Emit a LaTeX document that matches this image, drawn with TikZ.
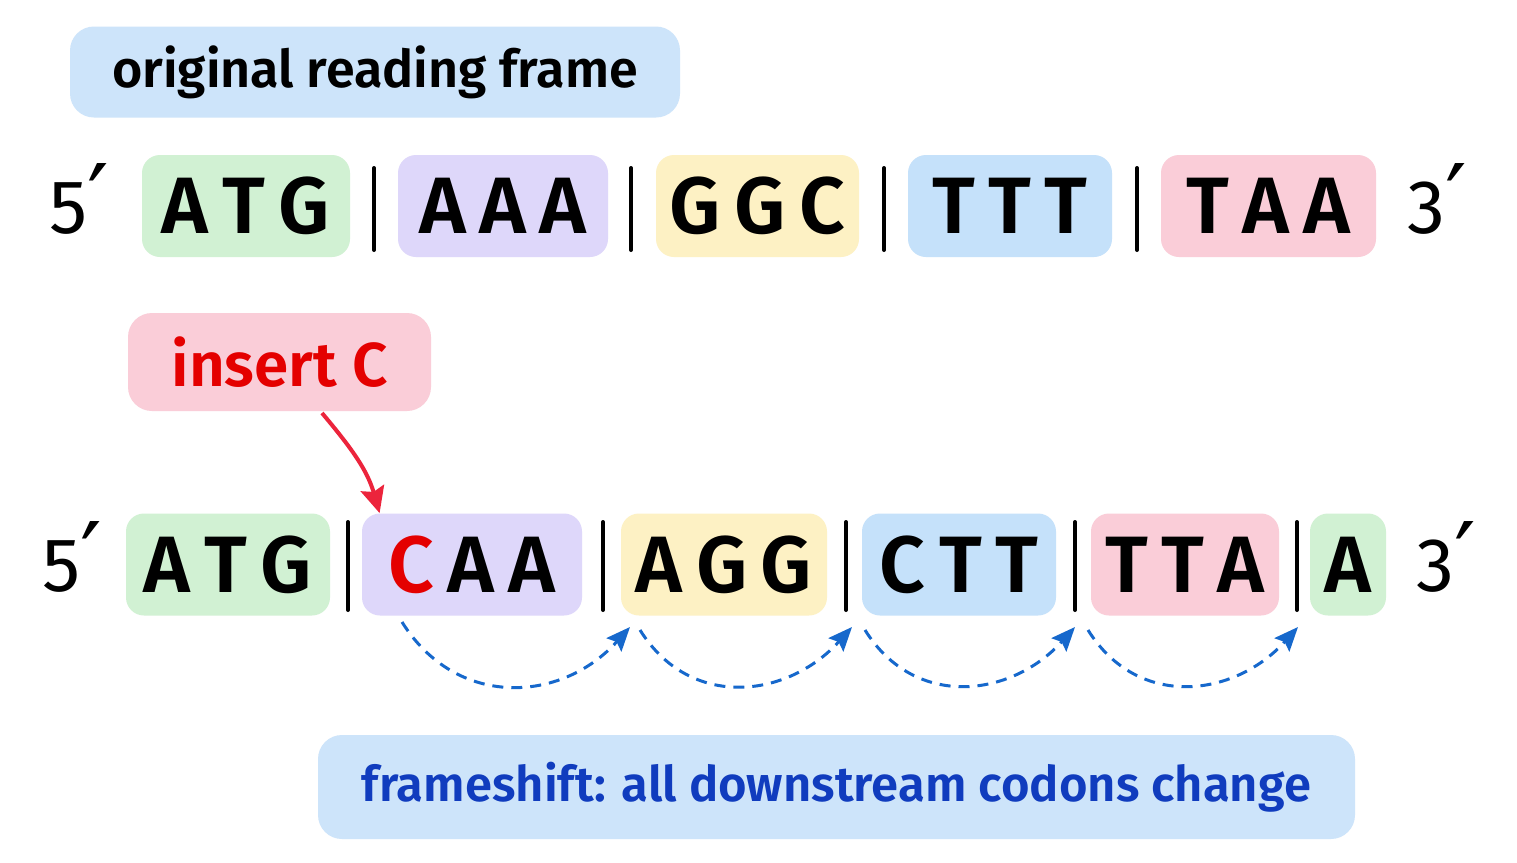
\documentclass[tikz,border=0pt]{standalone}
\usepackage[RGB]{xcolor}
\usepackage{fontspec}
\setsansfont{Fira Sans}
\newfontfamily\semifont{Fira Sans SemiBold}
\newfontfamily\primefont{DejaVu Sans}
\usetikzlibrary{arrows.meta}
\definecolor{G}{RGB}{209,241,211}
\definecolor{P}{RGB}{222,215,250}
\definecolor{Y}{RGB}{253,241,196}
\definecolor{B}{RGB}{197,225,250}
\definecolor{R}{RGB}{250,205,216}
\definecolor{labelblue}{RGB}{205,228,250}
\definecolor{textblue}{RGB}{16,60,190}
\definecolor{insertred}{RGB}{228,0,0}
\definecolor{arrowred}{RGB}{236,36,60}
\definecolor{shiftblue}{RGB}{22,104,204}
\newcommand{\ls}{\hspace{.17em}}
\newcommand{\pr}{{\primefont\fontsize{48}{48}\selectfont ′}}
\newcommand{\codon}[6]{\node[codonbox,fill=#5,minimum width=#4*.5pt] (#1) at (#2,#3) {#6};}
\newcommand{\drawbar}{\draw[line width=2pt,line cap=round]}

\begin{document}
\begin{tikzpicture}[x=.5pt,y=-.5pt,
    codonbox/.style={rounded corners=9pt,minimum height=51pt,inner sep=0pt,
      font=\semifont\fontsize{40}{40}\selectfont},
    endlabel/.style={anchor=base,inner sep=0pt,font=\sffamily\fontsize{38}{38}\selectfont},
    labelbox/.style={rounded corners=12pt,inner sep=0pt,font=\semifont\fontsize{26}{26}\selectfont},
    shiftarrow/.style={shiftblue,line width=1.5pt,dash pattern=on 5.5pt off 4pt,
      -{Stealth[length=12pt,width=10pt,inset=2pt]}},
    insertarrow/.style={arrowred,line width=2pt,-{Stealth[length=13pt,width=12pt,inset=2pt]}}]
\fill[white] (0,0) rectangle (1517,863);
\useasboundingbox (0,0) rectangle (1517,863);

% original frame
\node[labelbox,fill=labelblue,minimum width=305pt,minimum height=45.5pt] (orig) at (375,72) {original reading frame};
\node[endlabel] (topfive) at (79,233) {5\pr};
\codon{tatg}{246}{206}{208}{G}{A\ls T\ls G}
\codon{taaa}{503}{206}{210}{P}{A\ls A\ls A}
\codon{tggc}{757.5}{206}{203}{Y}{G\ls G\ls C}
\codon{tttt}{1010}{206}{204}{B}{T\ls T\ls T}
\codon{ttaa}{1268.5}{206}{215}{R}{T\ls A\ls A}
\node[endlabel] (topthree) at (1437,233) {3\pr};
\foreach \x in {374,631,884,1137}{
  \drawbar (\x,168)--(\x,250);
}

% insertion
\node[labelbox,fill=R,text=insertred,minimum width=151.5pt,minimum height=49pt,
  font=\semifont\fontsize{31}{31}\selectfont] (ins) at (279.5,362) {insert C};

% shifted frame
\node[endlabel] (botfive) at (72,591) {5\pr};
\codon{batg}{228}{564.5}{204}{G}{A\ls T\ls G}
\codon{bcaa}{472}{564.5}{220}{P}{\textcolor{insertred}{C}\ls A\ls A}
\codon{bagg}{724}{564.5}{206}{Y}{A\ls G\ls G}
\codon{bctt}{959}{564.5}{194}{B}{C\ls T\ls T}
\codon{btta}{1185}{564.5}{188}{R}{T\ls T\ls A}
\codon{ba}{1348}{564.5}{76}{G}{A}
\node[endlabel] (botthree) at (1446,591) {3\pr};
\foreach \x in {348,603,846,1075,1297}{
  \drawbar (\x,522)--(\x,610);
}

\coordinate (instail) at (322,413);
\draw[insertarrow] (instail) to[out=-50,in=106] ([xshift=9pt]bcaa.north west);

\coordinate (s1) at (402,622);  \coordinate (e1) at (630,627);
\coordinate (s2) at (640,630);  \coordinate (e2) at (852,627);
\coordinate (s3) at (865,630);  \coordinate (e3) at (1075,627);
\coordinate (s4) at (1088,630); \coordinate (e4) at (1298,627);
\foreach \i in {1,...,4}{
  \draw[shiftarrow] (s\i) to[out=-58,in=-132,looseness=1.15] (e\i);
}

\node[labelbox,fill=labelblue,text=textblue,minimum width=518.5pt,minimum height=52pt,
  font=\semifont\fontsize{24.5}{24.5}\selectfont] (shift) at (836.5,787) {frameshift: all downstream codons change};
\end{tikzpicture}
\end{document}
